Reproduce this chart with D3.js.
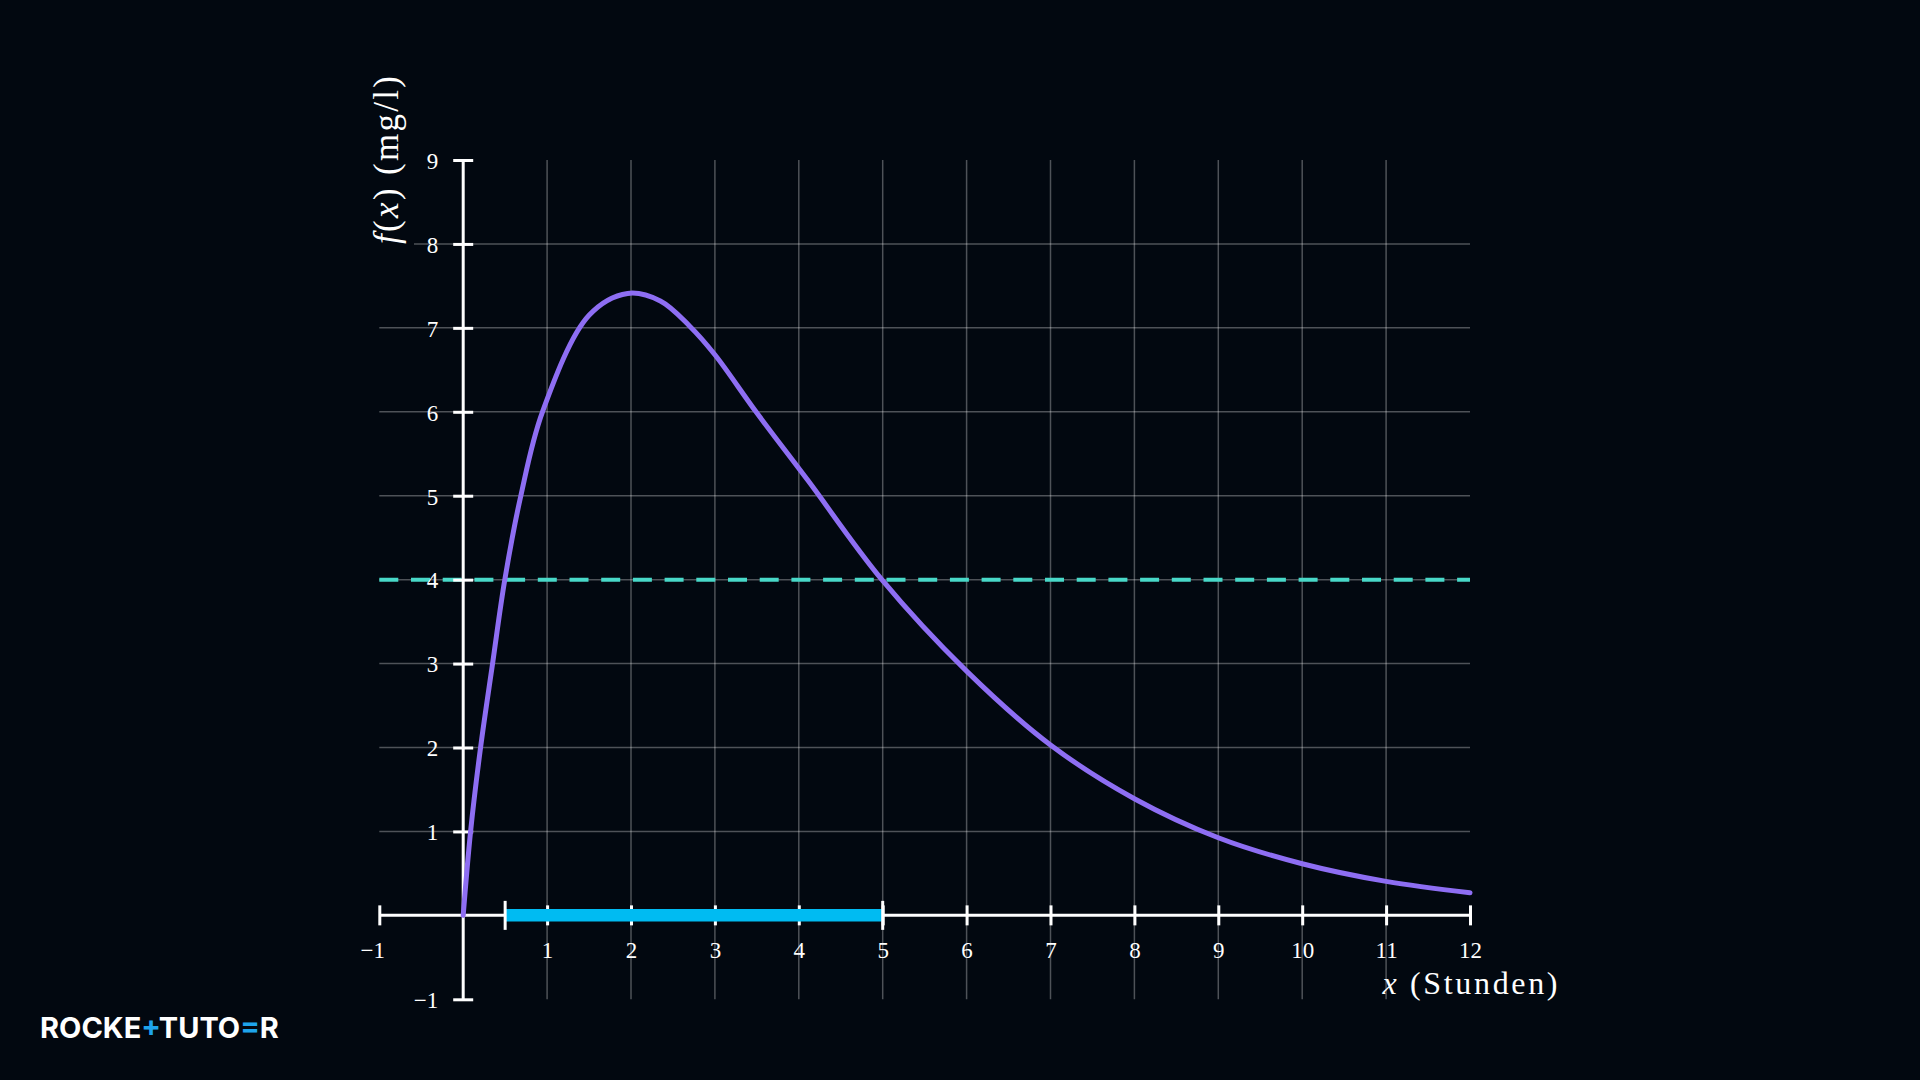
<!DOCTYPE html>
<html>
<head>
<meta charset="utf-8">
<script src="https://cdn.jsdelivr.net/npm/d3@7"></script>
<style>
  html, body { margin: 0; padding: 0; background: #020810; }
  svg { display: block; }
  .tick text { font-family: 'Liberation Serif', serif; font-size: 23px; fill: #ffffff; }
  .tick line { stroke: #ffffff; stroke-width: 3; }
</style>
</head>
<body>
<div id="graph"></div>
<script>
// values
var curveX = [0, 0.088, 0.207, 0.35, 0.496, 0.687, 0.945, 1.5, 1.96, 2.35, 2.7, 3, 3.49, 4.11, 4.99, 6, 7, 8, 9, 10, 11, 12];
var curveY = [0, 1, 2, 3, 4, 5, 6, 7.15, 7.41, 7.32, 7.02, 6.68, 6.0, 5.18, 4.0, 2.91, 2.03, 1.39, 0.925, 0.615, 0.405, 0.27];

var xTickValues = [-1, 1, 2, 3, 4, 5, 6, 7, 8, 9, 10, 11, 12];
var yTickValues = [-1, 1, 2, 3, 4, 5, 6, 7, 8, 9];
var xGridValues = [1, 2, 3, 4, 5, 6, 7, 8, 9, 10, 11];
var yGridValues = [1, 2, 3, 4, 5, 6, 7, 8];

var threshold = [4];
var band      = [0.5, 5];

var xLabel = ['x', ' (Stunden)'];
var yLabel = ['f', '(', 'x', ')', ' (mg/l)'];

var W = 1920, H = 1080;
var margin = { top: 160, left: 379.3 };
var width  = 1090.7;
var height = 839.3;

var svg = d3.select('#graph')
            .append('svg')
            .attr('width', W)
            .attr('height', H);

svg.append('rect')
   .attr('width', W).attr('height', H)
   .attr('fill', '#020810');

var xScale = d3.scaleLinear().domain([-1, 12]).range([margin.left, margin.left + width]);
var yScale = d3.scaleLinear().domain([-1, 9]).range([margin.top + height, margin.top]);

var serif = "'Liberation Serif', serif";

// grid
var grid = svg.append('g').attr('class', 'grid');
grid.selectAll('.vg')
    .data(xGridValues)
    .enter().append('line')
    .attr('x1', function (d) { return xScale(d); })
    .attr('x2', function (d) { return xScale(d); })
    .attr('y1', yScale(-1))
    .attr('y2', yScale(9))
    .attr('stroke', '#ffffff').attr('stroke-opacity', 0.3).attr('stroke-width', 1.5);

grid.selectAll('.hg')
    .data(yGridValues)
    .enter().append('line')
    .attr('x1', xScale(-1))
    .attr('x2', xScale(12))
    .attr('y1', function (d) { return yScale(d); })
    .attr('y2', function (d) { return yScale(d); })
    .attr('stroke', '#ffffff').attr('stroke-opacity', 0.3).attr('stroke-width', 1.5);

// dashed threshold line
svg.selectAll('.thr')
   .data(threshold)
   .enter().append('line')
   .attr('x1', xScale(-1))
   .attr('x2', xScale(12))
   .attr('y1', function (d) { return yScale(d); })
   .attr('y2', function (d) { return yScale(d); })
   .attr('stroke', '#48d8c8')
   .attr('stroke-width', 4)
   .attr('stroke-dasharray', '19 12.7');

// axes: ticks stick out on both sides, so shift by half the tick size
var xAxis = d3.axisBottom(xScale)
              .tickValues(xTickValues)
              .tickSizeInner(20).tickSizeOuter(0)
              .tickPadding(16)
              .tickFormat(d3.format('d'));

var yAxis = d3.axisLeft(yScale)
              .tickValues(yTickValues)
              .tickSizeInner(20).tickSizeOuter(0)
              .tickPadding(15)
              .tickFormat(d3.format('d'));

var gx = svg.append('g')
            .attr('class', 'x axis')
            .attr('transform', 'translate(0,' + (yScale(0) - 10) + ')')
            .call(xAxis);
gx.select('.domain').remove();
gx.selectAll('.tick text').attr('dx', function (d) { return d < 0 ? -7 : 0; });

var gy = svg.append('g')
            .attr('class', 'y axis')
            .attr('transform', 'translate(' + (xScale(0) + 10) + ',0)')
            .call(yAxis);
gy.select('.domain').remove();
gy.selectAll('.tick text').attr('dy', '0.36em');

svg.append('line')
   .attr('x1', xScale(-1)).attr('x2', xScale(12))
   .attr('y1', yScale(0)).attr('y2', yScale(0))
   .attr('stroke', '#ffffff').attr('stroke-width', 3);

svg.append('line')
   .attr('x1', xScale(0)).attr('x2', xScale(0))
   .attr('y1', yScale(-1)).attr('y2', yScale(9))
   .attr('stroke', '#ffffff').attr('stroke-width', 3);

// interval on the x axis where f(x) >= 4
svg.append('line')
   .attr('x1', xScale(band[0])).attr('x2', xScale(band[1]))
   .attr('y1', yScale(0)).attr('y2', yScale(0))
   .attr('stroke', '#00bbf2').attr('stroke-width', 12.5);

svg.selectAll('.bandEnd')
   .data(band)
   .enter().append('line')
   .attr('x1', function (d) { return xScale(d); })
   .attr('x2', function (d) { return xScale(d); })
   .attr('y1', yScale(0) - 14.5)
   .attr('y2', yScale(0) + 14.5)
   .attr('stroke', '#ffffff').attr('stroke-width', 3);

// the curve
var points = curveX.map(function (d, i) { return { x: d, y: curveY[i] }; });

var line = d3.line()
             .x(function (d) { return xScale(d.x); })
             .y(function (d) { return yScale(d.y); })
             .curve(d3.curveCatmullRom.alpha(0.5));

svg.append('path')
   .datum(points)
   .attr('d', line)
   .attr('fill', 'none')
   .attr('stroke', '#8e6ef3')
   .attr('stroke-width', 5)
   .attr('stroke-linecap', 'round');

// axis labels
var xl = svg.append('text')
            .attr('x', xScale(12))
            .attr('y', 994)
            .attr('text-anchor', 'middle')
            .attr('font-family', serif)
            .attr('font-size', 32)
            .attr('fill', '#ffffff')
            .attr('textLength', 175)
            .attr('lengthAdjust', 'spacing');
xl.selectAll('tspan')
  .data(xLabel)
  .enter().append('tspan')
  .attr('font-style', function (d, i) { return i === 0 ? 'italic' : 'normal'; })
  .text(function (d) { return d; });

var ylG = svg.append('g')
             .attr('transform', 'translate(398,' + yScale(9) + ') rotate(-90)');
var ybg = ylG.append('rect').attr('fill', '#020810');
var yl = ylG.append('text')
            .attr('text-anchor', 'middle')
            .attr('font-family', serif)
            .attr('font-size', 35)
            .attr('fill', '#ffffff')
            .attr('textLength', 168)
            .attr('lengthAdjust', 'spacing');
yl.selectAll('tspan')
  .data(yLabel)
  .enter().append('tspan')
  .attr('font-style', function (d) { return (d === 'f' || d === 'x') ? 'italic' : 'normal'; })
  .text(function (d) { return d; });
var bb = yl.node().getBBox();
ybg.attr('x', bb.x - 4).attr('y', bb.y - 4)
   .attr('width', bb.width + 8).attr('height', bb.height + 12);

// logo
var logo = svg.append('text')
              .attr('x', 40)
              .attr('y', 1038)
              .attr('font-family', 'Inter, sans-serif')
              .attr('font-weight', 700)
              .attr('font-size', 29)
              .attr('fill', '#ffffff');
logo.append('tspan').text('ROCKE');
logo.append('tspan').attr('fill', '#1ea4ec').text('+');
logo.append('tspan').text('TUTO');
logo.append('tspan').attr('fill', '#1ea4ec').text('=');
logo.append('tspan').text('R');
</script>
</body>
</html>
